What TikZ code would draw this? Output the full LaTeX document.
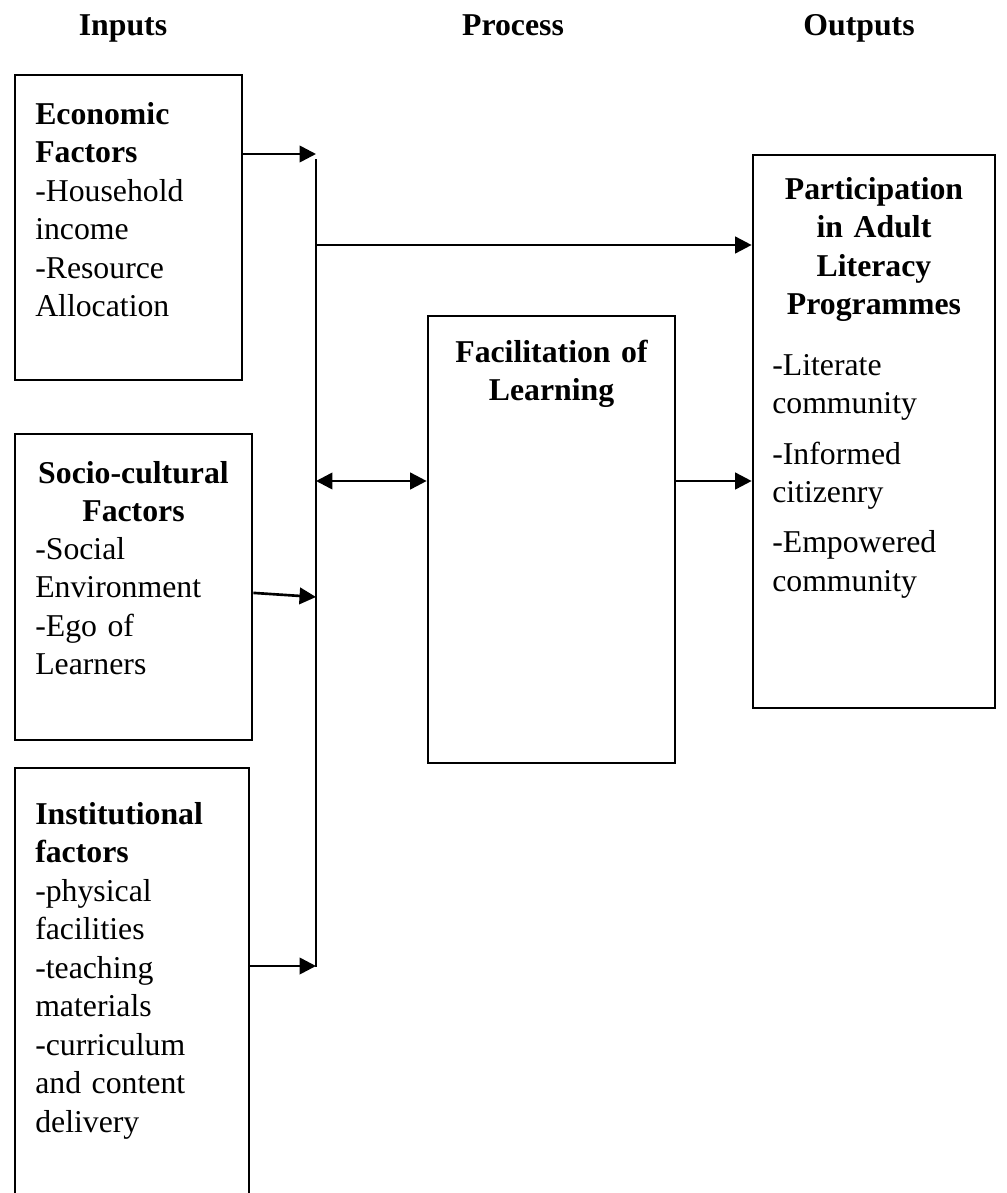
\documentclass[tikz,border=0pt]{standalone}
\usepackage{fontspec}
\setmainfont{Liberation Serif}
\usetikzlibrary{arrows.meta,calc,fit}

\tikzset{
    frame/.style={draw, line width=0.9pt, inner sep=0pt},
    txt/.style={inner sep=0pt, font=\fontsize{10.8}{13.1}\selectfont, execute at begin node=\strut},
    head/.style={txt, font=\fontsize{10.8}{13.1}\selectfont\bfseries},
    arr/.style={-{Triangle[length=5.6pt,width=5.6pt]}, line width=0.9pt},
    dblarr/.style={{Triangle[length=5.6pt,width=5.6pt]}-{Triangle[length=5.6pt,width=5.6pt]}, line width=0.9pt},
}

\begin{document}
\begin{tikzpicture}[x=0.34pt, y=-0.34pt]
        \useasboundingbox (0,0) rectangle (1006,1193);
        \node[head] (inputs) at (123,28) {Inputs};
        \node[head] (process) at (513,28) {Process};
        \node[head] (outputs) at (859,28) {Outputs};

        \node[frame, fit={(15,75) (242,380)}] (econ) {};
        \node[frame, fit={(15,434) (252,740)}] (socio) {};
        \node[frame, fit={(15,768) (249,1215)}] (inst) {};
        \node[frame, fit={(428,316) (675,763)}] (facil) {};
        \node[frame, fit={(753,155) (995,708)}] (part) {};

        \node[txt, anchor=north west, text width=66pt, align=left] (econtxt) at ($(econ.north west)+(21,23)$)
            {\textbf{Economic}\\ \textbf{Factors}\\ -Household\\ income\\ -Resource\\ Allocation};
        \node[head, anchor=north, text width=74pt, align=center] (sociohead) at ($(socio.north)+(0,23)$)
            {Socio-cultural\\ Factors};
        \node[txt, anchor=north west, text width=70pt, align=left] (sociotxt) at ($(socio.north west)+(21,99)$)
            {-Social\\ Environment\\ -Ego of\\ Learners};
        \node[txt, anchor=north west, text width=68pt, align=left] (insttxt) at ($(inst.north west)+(21,30)$)
            {\textbf{Institutional}\\ \textbf{factors}\\ -physical\\ facilities\\ -teaching\\ materials\\ -curriculum\\ and content\\ delivery};
        \node[head, anchor=north, text width=78pt, align=center] (facilhead) at ($(facil.north)+(0,20)$)
            {Facilitation of\\ Learning};
        \node[head, anchor=north, text width=76pt, align=center] (parthead) at ($(part.north)+(0,18)$)
            {Participation\\ in Adult\\ Literacy\\ Programmes};
        \node[txt, anchor=north west, text width=70pt, align=left] (parttxt) at ($(part.north west)+(20,194)$)
            {-Literate\\ community\\[4pt] -Informed\\ citizenry\\[4pt] -Empowered\\ community};

        \coordinate (bustop) at (316,159);
        \coordinate (busbot) at (316,967);
        \coordinate (econin) at (316,154);
        \coordinate (sociin) at (316,597);
        \coordinate (instin) at (316,966);
        \coordinate (partfeed) at (316,245);
        \coordinate (facilfeed) at (316,481);

        \draw[line width=0.9pt] (bustop) -- (busbot);
        \draw[arr] (econ.east |- econin) -- (econin);
        \draw[arr] ([yshift=-2pt]socio.east) -- (sociin);
        \draw[arr] (inst.east |- instin) -- (instin);
        \draw[arr] (partfeed) -- (partfeed -| part.west);
        \draw[dblarr] (facilfeed) -- (facilfeed -| facil.west);
        \draw[arr] (facilfeed -| facil.east) -- (facilfeed -| part.west);
\end{tikzpicture}
\end{document}
